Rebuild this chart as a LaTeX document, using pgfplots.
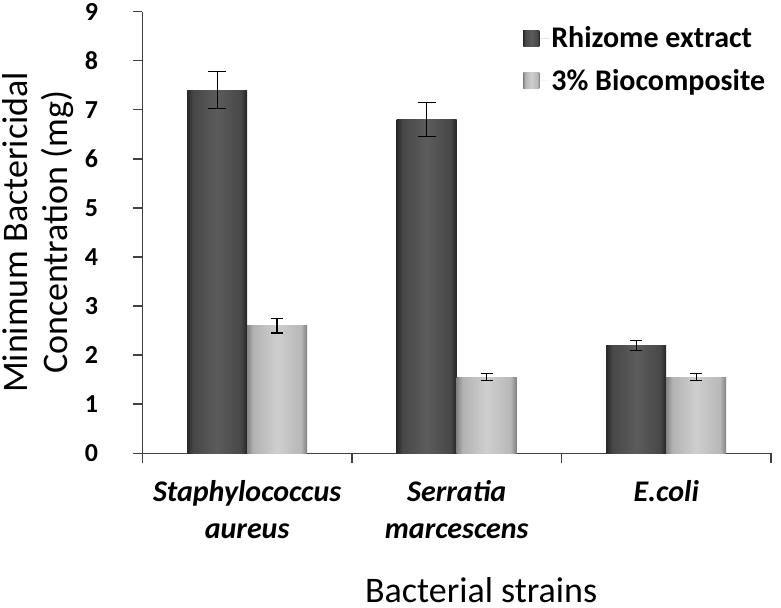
\documentclass[border=0pt]{standalone}
\usepackage{pgfplots}
\pgfplotsset{compat=1.18}
\usepackage{fontspec}
\setmainfont{Carlito}

% TikZ maps 25bp..75bp of a shading onto the path's box
\pgfdeclarehorizontalshading{darkshade}{100bp}{color(0bp)=(black!84); color(25bp)=(black!84);
  color(30bp)=(black!72); color(50bp)=(black!64); color(70bp)=(black!72);
  color(75bp)=(black!86); color(100bp)=(black!86)}
\pgfdeclarehorizontalshading{lightshade}{100bp}{color(0bp)=(black!48); color(25bp)=(black!48);
  color(30bp)=(black!30); color(50bp)=(black!19); color(70bp)=(black!28);
  color(75bp)=(black!50); color(100bp)=(black!50)}

\pgfplotsset{
  darkbar/.style={draw=none, bar shift=-30pt, fill=black!70,
    /tikz/shade, /tikz/shading=darkshade},
  lightbar/.style={draw=none, bar shift=30pt, fill=black!25,
    /tikz/shade, /tikz/shading=lightshade},
  bigcap/.style={error bars/error mark options={black, line width=1.2pt, mark size=9pt, rotate=90}},
  smallcap/.style={error bars/error mark options={black, line width=1.2pt, mark size=6pt, rotate=90}},
}

\begin{document}
\begin{tikzpicture}
\begin{axis}[
  scale only axis, width=629pt, height=442pt,
  ybar, bar width=60pt,
  xmin=-0.5, xmax=2.5, ymin=0, ymax=9,
  ytick={0,1,...,9},
  xtick={0,1,2},
  xticklabels={{Staphylococcus\\aureus},{Serratia\\marcescens},{E.coli}},
  minor xtick={-0.5,0.5,1.5,2.5},
  axis x line*=bottom, axis y line*=left,
  axis line style={black!75, line width=1.5pt, -},
  tick align=outside,
  major tick length=9pt, minor tick length=10pt,
  major x tick style={draw=none},
  minor x tick style={black!75, line width=1.5pt},
  y tick style={black!75, line width=1.5pt},
  /pgf/number format/assume math mode=true,
  yticklabel style={font=\fontsize{26}{26}\selectfont\bfseries, inner sep=3pt, xshift=-32pt},
  xticklabel style={align=center, anchor=north, yshift=-15pt,
    font=\fontsize{30}{37}\selectfont\bfseries\itshape},
  ylabel={Minimum Bactericidal\\Concentration (mg)},
  ylabel style={align=center, font=\fontsize{36}{40}\selectfont, inner sep=3pt,
    at={(axis description cs:-0.165,0.5)}, anchor=center},
  xlabel={Bacterial strains},
  xlabel style={font=\fontsize{36}{40}\selectfont, inner sep=5pt,
    at={(axis description cs:0.539,-0.338)}, anchor=base},
  legend style={at={(axis description cs:0.601,0.975)}, anchor=north west,
    draw=none, fill=none, font=\fontsize{30}{30}\selectfont\bfseries,
    row sep=16pt, legend cell align=left},
  legend image code/.code={\path[#1] (0pt,-8pt) rectangle (16pt,8pt);
    \path (0pt,0pt) -- (26pt,0pt);},
  error bars/y dir=both, error bars/y explicit,
  error bars/error bar style={black, line width=1.2pt},
  % blank room right of the axis, as in the reference
  extra description/.code={\path (rel axis cs:1,0) -- ++(10pt,0pt);},
]
% Rhizome extract
\addplot[darkbar, bigcap] coordinates {(0,7.4) +- (0,0.38)};
\addplot[darkbar, bigcap, forget plot] coordinates {(1,6.8) +- (0,0.35)};
\addplot[darkbar, smallcap, forget plot] coordinates {(2,2.2) +- (0,0.1)};
% 3% Biocomposite
\addplot[lightbar, smallcap] coordinates {(0,2.6) +- (0,0.15)};
\addplot[lightbar, smallcap, forget plot] coordinates {(1,1.55) +- (0,0.07)};
\addplot[lightbar, smallcap, forget plot] coordinates {(2,1.55) +- (0,0.07)};
\legend{Rhizome extract, 3\% Biocomposite}
\end{axis}
\end{tikzpicture}
\end{document}
